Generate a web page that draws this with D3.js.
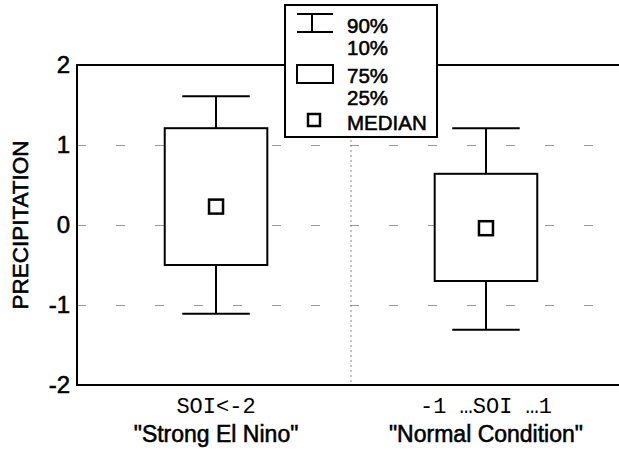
<!DOCTYPE html>
<html>
<head>
<meta charset="utf-8">
<script src="https://cdn.jsdelivr.net/npm/d3@7"></script>
<style>
  html, body { margin: 0; padding: 0; background: #fff; }
  svg { display: block; }
  .heavy { stroke: #000; stroke-width: 0.55px; fill: #000; }
</style>
</head>
<body>
<svg id="chart" width="619" height="455"></svg>
<script>
// Precipitation percentiles by SOI regime
const categories = ["SOI<-2", "-1 \u2026SOI \u20261"];
const conditions = ["\"Strong El Nino\"", "\"Normal Condition\""];
const p10 = [-1.11, -1.31];
const p25 = [-0.50, -0.70];
const median = [0.23, -0.04];
const p75 = [1.21, 0.64];
const p90 = [1.61, 1.21];
const yTicks = [-2, -1, 0, 1, 2];
const legendLabels = ["90%", "10%", "75%", "25%", "MEDIAN"];

const svg = d3.select("#chart");
const sans = "'Liberation Sans', Arial, Helvetica, sans-serif";
const mono = "'Liberation Mono', 'Courier New', monospace";

const plotL = 77, plotR = 625, plotT = 65, plotB = 385;

const y = d3.scaleLinear().domain([-2, 2]).range([plotB, plotT]);
const x = d3.scaleBand().domain(categories).range([plotL, plotR])
  .paddingInner(0).paddingOuter(0.015);

const rows = categories.map((c, i) => ({
  cat: c, cond: conditions[i],
  p10: p10[i], p25: p25[i], med: median[i], p75: p75[i], p90: p90[i]
}));

// horizontal grid
const grid = svg.append("g")
  .attr("transform", `translate(${plotL},0)`)
  .call(d3.axisLeft(y).tickValues([-1, 0, 1]).tickSize(-(plotR - plotL)).tickFormat(""));
grid.select(".domain").remove();
grid.selectAll("line")
  .attr("stroke", "#9a9a9a").attr("stroke-width", 1)
  .attr("stroke-dasharray", "9,30");

// divider between the two regimes
svg.append("line")
  .attr("x1", x(categories[1])).attr("x2", x(categories[1]))
  .attr("y1", plotT).attr("y2", plotB)
  .attr("stroke", "#8a8a8a").attr("stroke-width", 1)
  .attr("stroke-dasharray", "2,3");

// frame
svg.append("path")
  .attr("d", `M${plotR},${plotT}H${plotL}V${plotB}H${plotR}`)
  .attr("fill", "none").attr("stroke", "#000").attr("stroke-width", 2);

// y axis labels
const yAxis = svg.append("g")
  .attr("transform", `translate(${plotL},0)`)
  .call(d3.axisLeft(y).tickValues(yTicks).tickSize(0).tickPadding(7).tickFormat(d => String(d)));
yAxis.select(".domain").remove();
yAxis.selectAll("text")
  .attr("class", "heavy")
  .attr("font-family", sans).attr("font-size", 24);

svg.append("text")
  .attr("class", "heavy")
  .attr("transform", `translate(28,${y(0)}) rotate(-90)`)
  .attr("text-anchor", "middle")
  .attr("font-family", sans).attr("font-size", 22.5)
  .text("PRECIPITATION");

// boxes
const boxW = x.bandwidth() * 0.38;
const capW = x.bandwidth() * 0.25;
const medS = 14;
const g = svg.append("g").selectAll("g").data(rows).join("g")
  .attr("transform", d => `translate(${x(d.cat) + x.bandwidth() / 2},0)`);

g.append("line").attr("x1", 0).attr("x2", 0)
  .attr("y1", d => y(d.p90)).attr("y2", d => y(d.p75))
  .attr("stroke", "#000").attr("stroke-width", 2);
g.append("line").attr("x1", 0).attr("x2", 0)
  .attr("y1", d => y(d.p25)).attr("y2", d => y(d.p10))
  .attr("stroke", "#000").attr("stroke-width", 2);
g.append("line").attr("x1", -capW / 2).attr("x2", capW / 2)
  .attr("y1", d => y(d.p90)).attr("y2", d => y(d.p90))
  .attr("stroke", "#000").attr("stroke-width", 2);
g.append("line").attr("x1", -capW / 2).attr("x2", capW / 2)
  .attr("y1", d => y(d.p10)).attr("y2", d => y(d.p10))
  .attr("stroke", "#000").attr("stroke-width", 2);
g.append("rect")
  .attr("x", -boxW / 2).attr("width", boxW)
  .attr("y", d => y(d.p75)).attr("height", d => y(d.p25) - y(d.p75))
  .attr("fill", "#fff").attr("stroke", "#000").attr("stroke-width", 2);
g.append("rect")
  .attr("x", -medS / 2).attr("width", medS)
  .attr("y", d => y(d.med) - medS / 2).attr("height", medS)
  .attr("fill", "none").attr("stroke", "#000").attr("stroke-width", 2.5);

// category labels
g.append("text")
  .attr("y", 413).attr("text-anchor", "middle")
  .attr("font-family", mono).attr("font-size", 22)
  .text(d => d.cat);
g.append("text")
  .attr("class", "heavy")
  .attr("y", 442).attr("text-anchor", "middle")
  .attr("font-family", sans).attr("font-size", 23)
  .text(d => d.cond);

// legend
const lg = svg.append("g").attr("transform", "translate(285,5)");
lg.append("rect").attr("width", 152).attr("height", 132)
  .attr("fill", "#fff").attr("stroke", "#000").attr("stroke-width", 2);
lg.append("path")
  .attr("d", "M12,9H48M27,9V27M12,27H48")
  .attr("fill", "none").attr("stroke", "#000").attr("stroke-width", 2);
lg.append("rect").attr("x", 12).attr("y", 60).attr("width", 36).attr("height", 18)
  .attr("fill", "none").attr("stroke", "#000").attr("stroke-width", 2);
lg.append("rect").attr("x", 23).attr("y", 109).attr("width", 12).attr("height", 12)
  .attr("fill", "none").attr("stroke", "#000").attr("stroke-width", 2.5);
const legendY = [28, 50, 78, 100, 125];
lg.selectAll("text.lab").data(legendLabels).join("text")
  .attr("class", "lab heavy")
  .attr("x", 62).attr("y", (d, i) => legendY[i])
  .attr("font-family", sans).attr("font-size", 20.5)
  .text(d => d);
</script>
</body>
</html>
